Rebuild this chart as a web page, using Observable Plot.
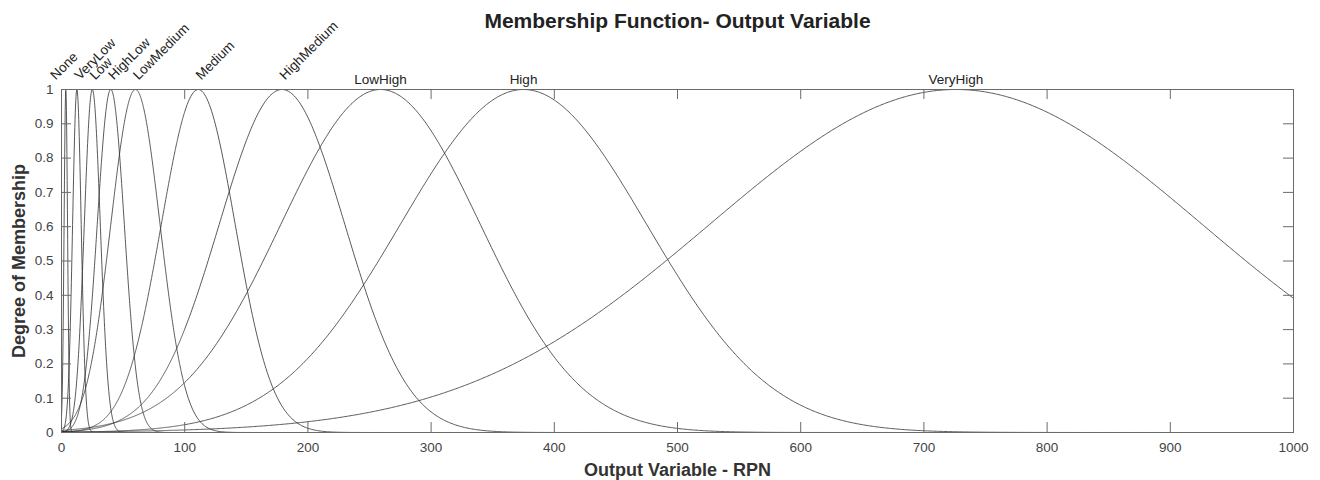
<!DOCTYPE html>
<html><head><meta charset="utf-8">
<script src="https://cdn.jsdelivr.net/npm/d3@7"></script>
<script src="https://cdn.jsdelivr.net/npm/@observablehq/plot@0.6"></script>
<style>body{margin:0;background:#fff} svg{display:block}</style>
</head><body><div id="chart"></div>
<script>
// Gaussian membership functions (gaussmf)
const mfNames   = ["None","VeryLow","Low","HighLow","LowMedium","Medium","HighMedium","LowHigh","High","VeryHigh"];
const mfCenters = [3.5, 12.5, 25, 40, 60, 111, 179, 259, 375, 726];
const mfSigmas  = [1.4, 3.5, 6.5, 11, 20, 30, 51, 81, 100, 200];
const xTicks = [0,100,200,300,400,500,600,700,800,900,1000];
const yTicks = [0,0.1,0.2,0.3,0.4,0.5,0.6,0.7,0.8,0.9,1];
const titleText = "Membership Function- Output Variable";
const xLabel = "Output Variable - RPN";
const yLabel = "Degree of Membership";

// sample the membership functions over the universe of discourse
const xs = d3.range(0, 100, 0.2).concat(d3.range(100, 1000.001, 1));
const curves = mfNames.flatMap((name, i) =>
  xs.map(x => ({name, x, y: Math.exp(-((x - mfCenters[i]) ** 2) / (2 * mfSigmas[i] ** 2))})));
const labels = mfNames.map((name, i) => ({name, c: mfCenters[i], i}));

const W = 1320, H = 480, mL = 61, mR = 27, mT = 89, mB = 48;
const fw = W - mL - mR, fh = H - mT - mB;
const axisColor = "#6a6a6a";
const font = "'Liberation Sans', Arial, Helvetica, sans-serif";

const chart = Plot.plot({
  width: W, height: H,
  marginLeft: mL, marginRight: mR, marginTop: mT, marginBottom: mB,
  x: {domain: [0, 1000]},
  y: {domain: [0, 1]},
  style: {fontFamily: font, background: "#fff", overflow: "visible"},
  marks: [
    Plot.line(curves, {x: "x", y: "y", z: "name", stroke: "#2e2e2e", strokeWidth: 0.8}),
    Plot.frame({stroke: axisColor, strokeWidth: 1}),
    Plot.tickX(xTicks, {x: d => d, insetTop: fh - 10, stroke: axisColor}),
    Plot.tickX(xTicks, {x: d => d, insetBottom: fh - 10, stroke: axisColor}),
    Plot.tickY(yTicks, {y: d => d, insetRight: fw - 10, stroke: axisColor}),
    Plot.tickY(yTicks, {y: d => d, insetLeft: fw - 10, stroke: axisColor}),
    Plot.axisX(xTicks, {anchor: "bottom", tickSize: 0, tickPadding: 10, fontSize: 13.5, color: "#444", label: null, tickFormat: d => String(d)}),
    Plot.axisY(yTicks, {anchor: "left", tickSize: 0, tickPadding: 8, fontSize: 13.5, color: "#444", label: null, tickFormat: d => String(d)}),
    // curve labels
    Plot.text(labels.filter(d => d.i >= 7), {x: "c", y: () => 1, text: "name", dy: -6, lineAnchor: "bottom", fontSize: 13.5, fill: "#222"}),
    Plot.text(labels.filter(d => d.i >= 1 && d.i < 7), {x: "c", y: () => 1, text: "name", rotate: -45, textAnchor: "start", lineAnchor: "bottom", dx: 3, dy: -9, fontSize: 13.5, fill: "#222"}),
    Plot.text(labels.filter(d => d.i === 0), {x: "c", y: () => 1, text: "name", rotate: -45, textAnchor: "start", lineAnchor: "bottom", dx: -10, dy: -9, fontSize: 13.5, fill: "#222"}),
    // titles
    Plot.text([titleText], {text: d => d, frameAnchor: "top", textAnchor: "middle", dy: -68, lineAnchor: "middle", fontSize: 21, fontWeight: "bold", fill: "#222"}),
    Plot.text([xLabel], {text: d => d, frameAnchor: "bottom", textAnchor: "middle", dy: 38, lineAnchor: "middle", fontSize: 18, fontWeight: "bold", fill: "#333"}),
    Plot.text([yLabel], {text: d => d, frameAnchor: "left", textAnchor: "middle", dx: -42, rotate: -90, lineAnchor: "middle", fontSize: 18, fontWeight: "bold", fill: "#333"})
  ]
});
document.getElementById("chart").appendChild(chart);
</script>
</body></html>
